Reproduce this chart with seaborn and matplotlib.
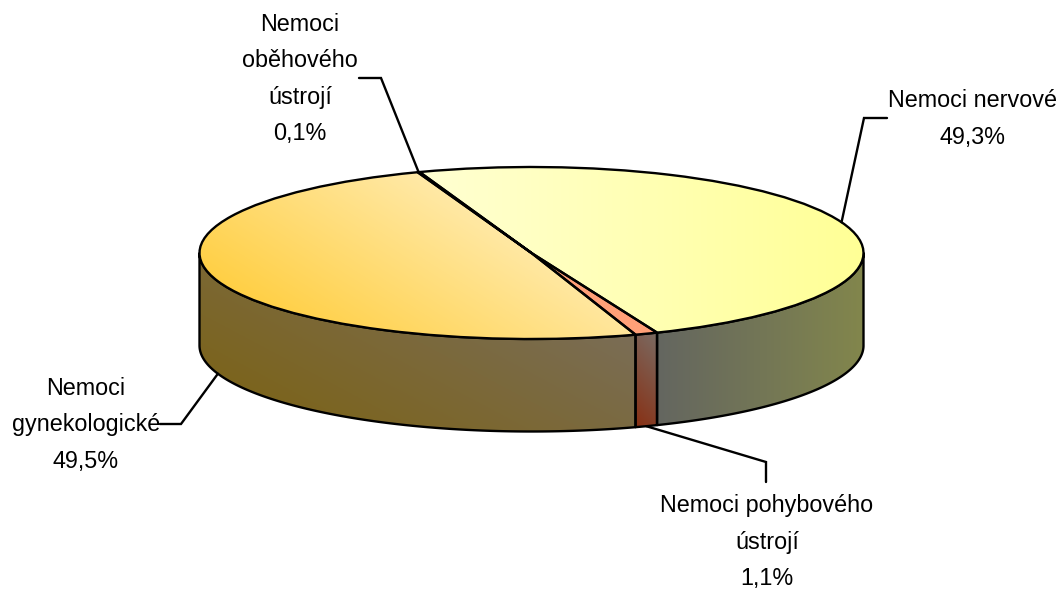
import numpy as np
import matplotlib
matplotlib.use("Agg")
import matplotlib.pyplot as plt
from matplotlib.patches import Wedge, Polygon
from matplotlib.transforms import Affine2D
import seaborn as sns

# ---- data -----
names = ["Nemoci nervové", "Nemoci pohybového\nústrojí", "Nemoci\ngynekologické", "Nemoci\noběhového\nústrojí"]
values = [49.3, 1.1, 49.5, 0.1]

# ---- style -----
top_grad = [("#FFFFD2", "#FFFF96", 0), ("#FFA078", "#FFA078", 0), ("#FFC828", "#FFF8E0", 58), ("#FFF0C0", "#FFF0C0", 0)]
side_grad = [("#646660", "#82864C", 0), ("#883014", "#7A6C64", 40), ("#7C6210", "#7A7068", 62), None]
label_xy = [(973, 119), (767, 542), (86, 425), (300, 79)]
leader_mid = [[(864, 118), (887, 118)], [(766, 462), (766, 482)], [(181, 424), (160, 424)], [(381, 78), (359, 78)]]

W, H = 1060, 591
CX, CY, RX, RY, DEPTH = 531.5, 253, 332, 86, 92.5
START = 109.7

sns.set_theme(style="white")
plt.rcParams["font.family"] = ["Liberation Sans", "DejaVu Sans"]

fig = plt.figure(figsize=(W / 100, H / 100), dpi=100, facecolor="white")
ax = fig.add_axes([0, 0, 1, 1])
wedges, _ = ax.pie(values, startangle=START, counterclock=False, radius=1, center=(0, 0),
                   colors=["none"] * len(values), wedgeprops=dict(edgecolor="none"))
ax.set_aspect("auto")
ax.set_xlim(-CX / RX, (W - CX) / RX)
ax.set_ylim(-(H - CY) / RY, CY / RY)
ax.axis("off")
D = DEPTH / RY

px = Affine2D().scale(1, -1).translate(0, H)  # image-pixel coordinates (dpi 100)


def gradient(patch, c0, c1, angle, bbox, z):
    """Linear gradient from c0 to c1, clipped to a patch; angle in screen degrees (up = positive)."""
    x0, x1, y0, y1 = bbox
    n = 300
    u, v = np.meshgrid(np.linspace(0, 1, n), np.linspace(0, 1, n))
    a = np.deg2rad(angle)
    t = u * (x1 - x0) * RX * np.cos(a) + v * (y1 - y0) * RY * np.sin(a)
    t = (t - t.min()) / max(t.max() - t.min(), 1e-9)
    cmap = sns.blend_palette([c0, c1], as_cmap=True)
    im = ax.imshow(t, extent=(x0, x1, y0, y1), origin="lower", cmap=cmap, vmin=0, vmax=1,
                   aspect="auto", zorder=z, interpolation="bilinear")
    im.set_clip_path(patch)


# slice angles derived from the values
edges = START - np.cumsum([0] + values) / sum(values) * 360
LW = 1.7

# side walls
for i, g in enumerate(side_grad):
    hi, lo = edges[i], edges[i + 1]
    s_hi, s_lo = min(hi, 0), max(lo, -180)
    if g is None or s_hi <= s_lo:
        continue
    th = np.deg2rad(np.linspace(s_lo, s_hi, 200))
    x, y = np.cos(th), np.sin(th)
    verts = np.r_[np.c_[x, y], np.c_[x[::-1], y[::-1] - D]]
    poly = Polygon(verts, closed=True, fc="none", ec="none", zorder=2)
    ax.add_patch(poly)
    gradient(poly, g[0], g[1], g[2], (x.min(), x.max(), y.min() - D, y.max()), 2)
    ax.add_patch(Polygon(verts, closed=True, fc="none", ec="black", lw=LW, zorder=3, joinstyle="round"))

# top faces
for i, w in enumerate(wedges):
    hi, lo = edges[i], edges[i + 1]
    th = np.deg2rad(np.linspace(lo, hi, 200))
    x = np.r_[0, np.cos(th)]
    y = np.r_[0, np.sin(th)]
    w.set_zorder(4)
    g = top_grad[i]
    gradient(w, g[0], g[1], g[2], (x.min(), x.max(), y.min(), y.max()), 4)
    ax.add_patch(Wedge((0, 0), 1, lo, hi, fc="none", ec="black", lw=LW, zorder=5, joinstyle="round"))

# leaders and labels
mids = (edges[:-1] + edges[1:]) / 2
for i, (name, val) in enumerate(zip(names, values)):
    m = np.deg2rad(mids[i])
    ax_x, ax_y = np.cos(m), np.sin(m)
    if np.sin(m) < 0:
        ax_y -= D
    sx = CX + RX * ax_x
    sy = CY - RY * ax_y
    pts = [(sx, sy)] + leader_mid[i]
    ax.plot([p[0] for p in pts], [p[1] for p in pts], color="black", lw=LW, transform=px,
            zorder=6, solid_joinstyle="miter", clip_on=False)
    txt = name + "\n" + f"{val:.1f}".replace(".", ",") + "%"
    ax.text(*label_xy[i], txt, transform=px, ha="center", va="center", ma="center",
            fontsize=16.8, color="black", linespacing=1.74, zorder=7, clip_on=False)

fig.savefig("out.png", dpi=100, facecolor="white")
